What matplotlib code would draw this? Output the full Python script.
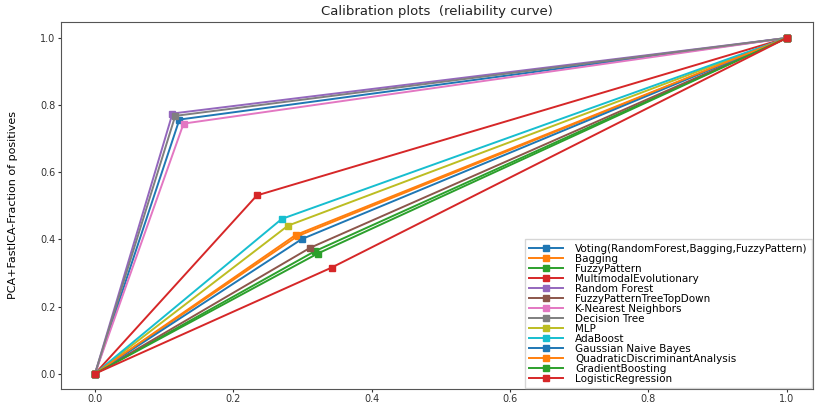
import matplotlib
matplotlib.use("Agg")
import matplotlib.pyplot as plt

# classifier names (legend order) and their single mid-bin calibration point
NAMES = [
    "Voting(RandomForest,Bagging,FuzzyPattern)",
    "Bagging",
    "FuzzyPattern",
    "MultimodalEvolutionary",
    "Random Forest",
    "FuzzyPatternTreeTopDown",
    "K-Nearest Neighbors",
    "Decision Tree",
    "MLP",
    "AdaBoost",
    "Gaussian Naive Bayes",
    "QuadraticDiscriminantAnalysis",
    "GradientBoosting",
    "LogisticRegression",
]
MEAN_PRED = [0.122, 0.293, 0.318, 0.234, 0.112, 0.311, 0.128, 0.116, 0.279, 0.270, 0.299, 0.290, 0.322, 0.342]
FRAC_POS = [0.757, 0.410, 0.365, 0.531, 0.775, 0.375, 0.745, 0.768, 0.441, 0.461, 0.401, 0.413, 0.358, 0.316]

COLORS = ["#1f77b4", "#ff7f0e", "#2ca02c", "#d62728", "#9467bd", "#8c564b", "#e377c2",
          "#7f7f7f", "#bcbd22", "#17becf", "#1f77b4", "#ff7f0e", "#2ca02c", "#d62728"]

fig = plt.figure(figsize=(8.15, 4.05), dpi=100)
ax = fig.add_axes([0.075, 0.04, 0.9225, 0.906])

for name, xm, ym, c in zip(NAMES, MEAN_PRED, FRAC_POS, COLORS):
    ax.plot([0.0, xm, 1.0], [0.0, ym, 1.0], "s-", color=c, label=name,
            linewidth=1.4, markersize=5)

ax.set_xlim(-0.049, 1.038)
ax.set_ylim(-0.045, 1.048)
ax.set_xticks([0.0, 0.2, 0.4, 0.6, 0.8, 1.0])
ax.set_yticks([0.0, 0.2, 0.4, 0.6, 0.8, 1.0])
ax.tick_params(labelsize=7, colors="#333333", length=2.5, pad=1.5)
for s in ax.spines.values():
    s.set_color("#555555")

ax.set_title("Calibration plots  (reliability curve)", fontsize=9.5, color="#222222", pad=5)
ax.set_ylabel("PCA+FastICA-Fraction of positives", fontsize=8,
              family=["Liberation Sans Narrow", "DejaVu Sans"], labelpad=16)

ax.legend(loc="lower right", fontsize=7.5, labelspacing=0.0, handlelength=3.2,
          handletextpad=1.2, borderpad=0.4, frameon=True, fancybox=False,
          edgecolor="#cccccc", borderaxespad=0.1)

fig.savefig("out.png", dpi=100)
